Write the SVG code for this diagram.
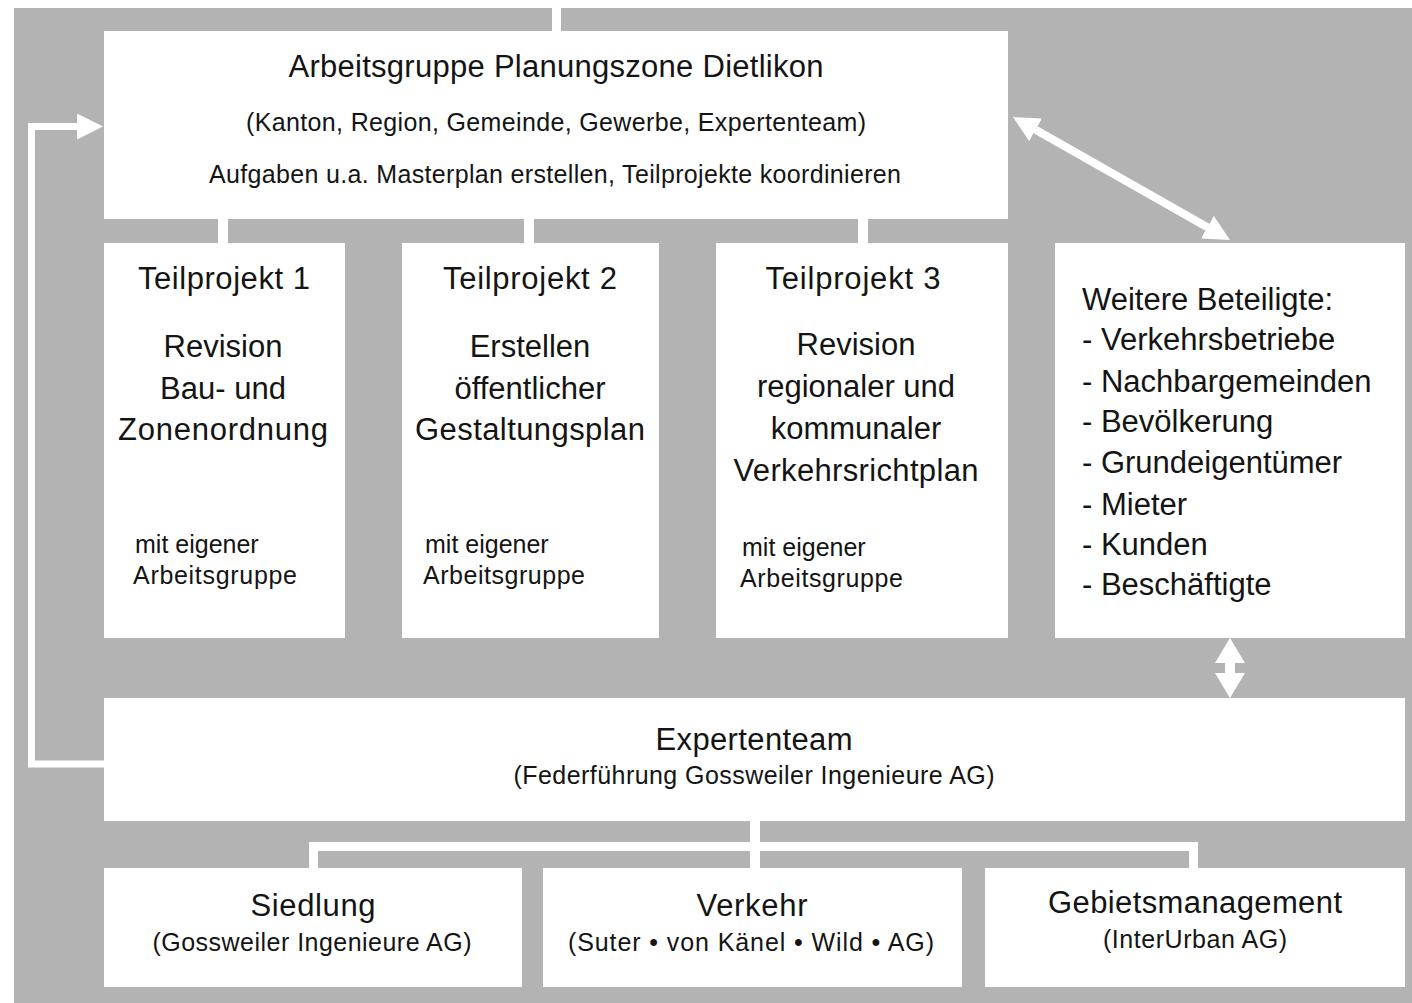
<svg xmlns="http://www.w3.org/2000/svg" width="1412" height="1003" viewBox="0 0 1412 1003">
<style>
.box{fill:#ffffff}
text{font-family:"Liberation Sans",Arial,sans-serif;fill:#141414}
.h{font-size:31px}
.s{font-size:25px}
.c{text-anchor:middle}
.w{fill:#ffffff}
.ln{stroke:#ffffff;fill:none}
</style>
<defs>
<marker id="ah" markerUnits="userSpaceOnUse" viewBox="0 -13 26 26" refX="0" refY="0" markerWidth="26" markerHeight="26" orient="auto-start-reverse">
<path d="M0,-13 L26,0 L0,13 z" fill="#ffffff"/>
</marker>
<marker id="ah2" markerUnits="userSpaceOnUse" viewBox="0 -15 25 30" refX="0" refY="0" markerWidth="25" markerHeight="30" orient="auto-start-reverse">
<path d="M0,-15 L25,0 L0,15 z" fill="#ffffff"/>
</marker>
</defs>
<rect x="14" y="8" width="1398" height="995" fill="#b3b3b3"/>
<g id="connectors">
<rect class="w" x="552" y="8" width="9" height="24"/>
<rect class="w" x="218" y="218" width="10" height="27"/>
<rect class="w" x="524" y="218" width="10" height="27"/>
<rect class="w" x="858" y="218" width="10" height="27"/>
<rect class="w" x="750" y="819" width="10" height="50"/>
<path class="ln" stroke-width="9" d="M313.5,869 V846.5 H1193.5 V869"/>
<path class="ln" stroke-width="7" d="M105,764 H31.5 V126.5 H77" marker-end="url(#ah)"/>
<line class="ln" stroke-width="8" x1="1035.6" y1="129.8" x2="1207.4" y2="227.2" marker-start="url(#ah)" marker-end="url(#ah)"/>
<line class="ln" stroke-width="10" x1="1230" y1="663" x2="1230" y2="673" marker-start="url(#ah2)" marker-end="url(#ah2)"/>
</g>
<g id="arbeitsgruppe">
<rect class="box" x="104" y="31" width="904" height="188"/>
<text class="h c" x="556" y="77" textLength="535">Arbeitsgruppe Planungszone Dietlikon</text>
<text class="s c" x="556" y="131" textLength="620">(Kanton, Region, Gemeinde, Gewerbe, Expertenteam)</text>
<text class="s c" x="555" y="183" textLength="692">Aufgaben u.a. Masterplan erstellen, Teilprojekte koordinieren</text>
</g>
<g id="teilprojekt1">
<rect class="box" x="104" y="243" width="241" height="395"/>
<text class="h c" x="224" y="289" textLength="172">Teilprojekt 1</text>
<text class="h c" x="223" y="357">Revision</text>
<text class="h c" x="223" y="399">Bau- und</text>
<text class="h c" x="223" y="440" textLength="210">Zonenordnung</text>
<text class="s" x="135" y="553">mit eigener</text>
<text class="s" x="133" y="584" textLength="164">Arbeitsgruppe</text>
</g>
<g id="teilprojekt2">
<rect class="box" x="402" y="243" width="257" height="395"/>
<text class="h c" x="530" y="289" textLength="174">Teilprojekt 2</text>
<text class="h c" x="530" y="357">Erstellen</text>
<text class="h c" x="530" y="399">öffentlicher</text>
<text class="h c" x="530" y="440" textLength="230">Gestaltungsplan</text>
<text class="s" x="425" y="553">mit eigener</text>
<text class="s" x="423" y="584" textLength="162">Arbeitsgruppe</text>
</g>
<g id="teilprojekt3">
<rect class="box" x="716" y="243" width="292" height="395"/>
<text class="h c" x="853" y="289" textLength="175">Teilprojekt 3</text>
<text class="h c" x="856" y="355">Revision</text>
<text class="h c" x="856" y="397">regionaler und</text>
<text class="h c" x="856" y="439">kommunaler</text>
<text class="h c" x="856" y="481" textLength="245">Verkehrsrichtplan</text>
<text class="s" x="742" y="556">mit eigener</text>
<text class="s" x="740" y="587" textLength="163">Arbeitsgruppe</text>
</g>
<g id="weitere">
<rect class="box" x="1055" y="243" width="350" height="395"/>
<text class="h" x="1082" y="310">Weitere Beteiligte:</text>
<text class="h" x="1082" y="350">- Verkehrsbetriebe</text>
<text class="h" x="1082" y="392">- Nachbargemeinden</text>
<text class="h" x="1082" y="432">- Bevölkerung</text>
<text class="h" x="1082" y="473">- Grundeigentümer</text>
<text class="h" x="1082" y="515">- Mieter</text>
<text class="h" x="1082" y="555">- Kunden</text>
<text class="h" x="1082" y="595">- Beschäftigte</text>
</g>
<g id="expertenteam">
<rect class="box" x="104" y="698" width="1301" height="123"/>
<text class="h c" x="754" y="750" textLength="197">Expertenteam</text>
<text class="s c" x="754" y="784" textLength="481">(Federführung Gossweiler Ingenieure AG)</text>
</g>
<g id="siedlung">
<rect class="box" x="104" y="868" width="418" height="119"/>
<text class="h c" x="313" y="916" textLength="125">Siedlung</text>
<text class="s c" x="312" y="951" textLength="319">(Gossweiler Ingenieure AG)</text>
</g>
<g id="verkehr">
<rect class="box" x="543" y="868" width="419" height="119"/>
<text class="h c" x="752" y="916" textLength="111">Verkehr</text>
<text class="s c" x="751" y="951" textLength="366">(Suter • von Känel • Wild • AG)</text>
</g>
<g id="gebietsmanagement">
<rect class="box" x="985" y="868" width="420" height="119"/>
<text class="h c" x="1195" y="913" textLength="294">Gebietsmanagement</text>
<text class="s c" x="1195" y="948" textLength="184">(InterUrban AG)</text>
</g>
</svg>
